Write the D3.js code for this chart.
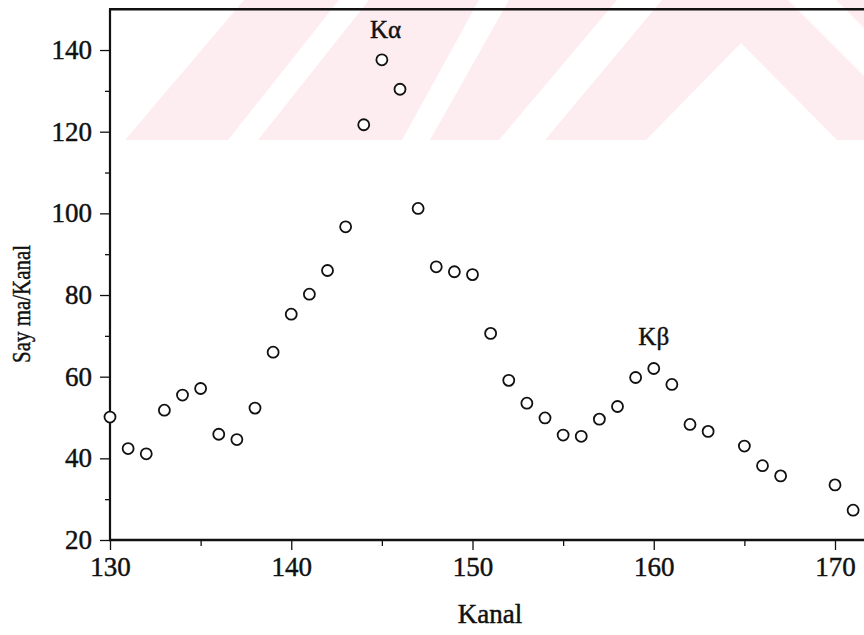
<!DOCTYPE html>
<html>
<head>
<meta charset="utf-8">
<script src="https://cdn.jsdelivr.net/npm/d3@7"></script>
<style>
  html, body { margin: 0; padding: 0; background: #fff; }
  svg { display: block; }
  text { font-family: "Liberation Serif", "Times New Roman", serif; fill: #111; stroke: #111; stroke-width: 0.45px; }
</style>
</head>
<body>
<svg id="chart" width="864" height="635"></svg>
<script>
// Channel numbers (Kanal) and counts per channel (Sayıma/Kanal)
const channels = [130, 131, 132, 133, 134, 135, 136, 137, 138, 139, 140, 141, 142, 143, 144, 145, 146, 147, 148, 149, 150,
                  151, 152, 153, 154, 155, 156, 157, 158, 159, 160, 161, 162, 163, 165, 166, 167, 170, 171];
const counts = [50.1, 42.4, 41.1, 51.8, 55.5, 57.1, 45.9, 44.6, 52.3, 66.0, 75.3, 80.2, 86.0, 96.7, 121.7, 137.6, 130.4, 101.2, 86.9, 85.7, 85.0,
                70.6, 59.1, 53.5, 49.9, 45.7, 45.4, 49.6, 52.7, 59.8, 62.0, 58.1, 48.3, 46.6, 43.0, 38.2, 35.7, 33.5, 27.3];

// Axis ticks
const xMajorTicks = [130, 140, 150, 160, 170];
const xMinorTicks = [135, 145, 155, 165];
const yMajorTicks = [20, 40, 60, 80, 100, 120, 140];
const yMinorTicks = [30, 50, 70, 90, 110, 130];

// Peak annotations
const peakLabels = ["K\u03B1", "K\u03B2"];
const peakChannels = [145.2, 160];
const peakLevels = [143, 67.7];

const svg = d3.select("#chart");
const W = 864, H = 635;
const margin = { left: 110, top: 9.2, right: 0, bottom: 95 };

const x = d3.scaleLinear().domain([130, 171.6]).range([margin.left, W - margin.right]);
const y = d3.scaleLinear().domain([20, 150]).range([H - margin.bottom, margin.top]);

// Light striped emblem behind the upper part of the plot
const bg = svg.append("g").attr("class", "emblem");
const pink = "#fdedf0";
bg.append("path")
  .attr("d", "M125,140 L244,0 L864,0 L864,140 Z")
  .attr("fill", pink);
const whiteBands = [
  "M228,140 L258,140 L369,0 L339,0 Z",
  "M402,140 L430,140 L509,0 L479,0 Z",
  "M499,140 L545,140 L662,0 L617,0 Z",
  "M646,140 L741,43 L837,140 Z",
  "M788,0 L836,0 L864,28 L864,76 Z"
];
bg.selectAll("path.band").data(whiteBands).join("path")
  .attr("class", "band").attr("d", d => d).attr("fill", "#fff");

// Axes
const gx = svg.append("g").attr("transform", `translate(0,${y(20)})`);
gx.call(d3.axisBottom(x).tickValues(xMajorTicks).tickSize(10).tickPadding(7).tickFormat(d3.format("d")));
const gxm = svg.append("g").attr("transform", `translate(0,${y(20)})`);
gxm.call(d3.axisBottom(x).tickValues(xMinorTicks).tickSize(6).tickFormat(""));

const gy = svg.append("g").attr("transform", `translate(${x(130)},0)`);
gy.call(d3.axisLeft(y).tickValues(yMajorTicks).tickSize(10).tickPadding(8).tickFormat(d3.format("d")));
const gym = svg.append("g").attr("transform", `translate(${x(130)},0)`);
gym.call(d3.axisLeft(y).tickValues(yMinorTicks).tickSize(5).tickFormat(""));

[gx, gxm, gy, gym].forEach(g => {
  g.select(".domain").remove();
  g.selectAll(".tick line").attr("stroke", "#111").attr("stroke-width", 1.3);
  g.selectAll(".tick text").attr("font-size", 27).attr("fill", "#111")
    .style("font-family", "'Liberation Serif', 'Times New Roman', serif");
});

// Frame lines: left axis, bottom axis, top border
svg.append("line").attr("x1", x(130)).attr("x2", x(130)).attr("y1", y(150)).attr("y2", y(20) + 1)
  .attr("stroke", "#111").attr("stroke-width", 2.2);
svg.append("line").attr("x1", x(130) - 1).attr("x2", W).attr("y1", y(20)).attr("y2", y(20))
  .attr("stroke", "#111").attr("stroke-width", 2.6);
svg.append("line").attr("x1", x(130) - 1).attr("x2", W).attr("y1", y(150)).attr("y2", y(150))
  .attr("stroke", "#111").attr("stroke-width", 2.4);

// Data points as open circles
svg.append("g").selectAll("circle").data(channels).join("circle")
  .attr("cx", (d) => x(d))
  .attr("cy", (d, i) => y(counts[i]))
  .attr("r", 5.5)
  .attr("fill", "#fff")
  .attr("stroke", "#111")
  .attr("stroke-width", 1.8);

// Peak labels
svg.append("g").selectAll("text").data(peakLabels).join("text")
  .attr("x", (d, i) => x(peakChannels[i]))
  .attr("y", (d, i) => y(peakLevels[i]))
  .attr("text-anchor", "middle")
  .attr("font-size", 25)
  .text(d => d);

// Axis titles
svg.append("text")
  .attr("x", 490).attr("y", 623)
  .attr("text-anchor", "middle")
  .attr("font-size", 27)
  .text("Kanal");

svg.append("text")
  .attr("transform", "translate(30,304) rotate(-90)")
  .attr("text-anchor", "middle")
  .attr("font-size", 26)
  .attr("textLength", 118)
  .attr("lengthAdjust", "spacingAndGlyphs")
  .text("Say ma/Kanal");
</script>
</body>
</html>
